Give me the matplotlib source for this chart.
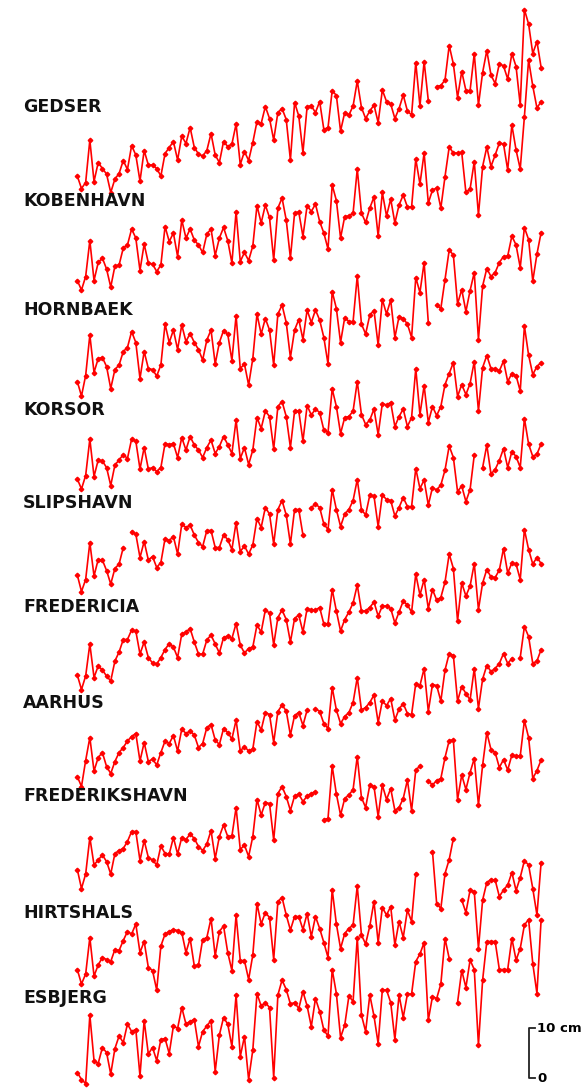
import numpy as np
import matplotlib.pyplot as plt

nan = np.nan
years = np.arange(1889, 2001)

stations = ["GEDSER", "KOBENHAVN", "HORNBAEK", "KORSOR", "SLIPSHAVN",
            "FREDERICIA", "AARHUS", "FREDERIKSHAVN", "HIRTSHALS", "ESBJERG"]

# annual mean sea level, cm (arbitrary zero per station)
gedser = [4.8, 2.3, 3.5, 12.0, 3.7, 7.5, 6.3, 5.2, 1.5, 4.2, 5.3, 7.9, 6.1, 10.9, 9.0, 3.8,
          9.9, 7.0, 7.0, 6.3, 4.8, 9.3, 10.5, 11.7, 8.0, 12.8, 11.3, 14.5, 10.5, 9.2, 8.8, 9.9,
          13.3, 9.0, 7.5, 11.7, 10.7, 11.2, 15.2, 7.1, 9.7, 7.9, 11.5, 15.7, 15.3, 18.7, 16.3, 12.0,
          17.5, 18.3, 16.1, 8.0, 19.5, 16.8, 9.5, 18.7, 18.8, 17.5, 19.7, 14.1, 14.5, 21.9, 20.9, 13.8,
          17.5, 17.0, 18.8, 23.8, 18.5, 16.3, 17.8, 19.0, 15.5, 22.0, 19.7, 19.2, 16.3, 18.3, 21.0, 17.8,
          17.0, 27.5, 18.8, 27.7, 19.9, nan, 22.7, 22.9, 24.0, 30.9, 27.2, 20.5, 25.7, 21.9, 21.9, 29.3,
          19.0, 25.5, 29.9, 25.0, 23.3, 27.3, 26.8, 24.2, 29.3, 26.7, 19.0, 38.1, 35.2, 29.3, 31.7, 26.5]
kobenhavn = [3.2, 1.3, 4.0, 11.2, 3.2, 6.8, 7.7, 5.5, 1.9, 6.1, 6.3, 9.7, 10.3, 13.5, 11.7, 5.2,
             10.5, 6.7, 6.5, 5.0, 6.3, 14.0, 11.0, 12.7, 8.0, 15.3, 11.7, 13.5, 11.3, 10.3, 8.8, 12.5,
             13.5, 8.2, 11.7, 13.8, 11.2, 6.7, 17.0, 7.0, 8.8, 7.2, 10.1, 18.2, 14.7, 18.3, 15.8, 7.3,
             17.7, 19.7, 15.3, 7.7, 16.7, 16.9, 12.0, 18.2, 17.0, 18.5, 15.0, 12.7, 9.5, 22.3, 19.2, 11.7,
             16.0, 16.1, 16.7, 25.5, 16.7, 14.8, 17.7, 19.9, 12.1, 20.8, 16.1, 19.5, 14.7, 18.3, 20.3, 17.9,
             17.9, 27.5, 22.5, 28.7, 18.7, 21.3, 21.7, 17.7, 24.0, 29.9, 28.7, 28.7, 28.8, 20.8, 21.5, 27.0,
             16.3, 26.0, 29.9, 26.0, 28.3, 30.7, 30.5, 25.3, 34.3, 29.3, 25.5, 36.0, 47.3, 42.1, 37.7, 39.0]
hornbaek = [3.7, 0.8, 4.9, 13.0, 5.5, 8.3, 8.5, 6.7, 2.3, 6.1, 7.0, 9.7, 10.5, 13.7, 11.5, 4.3,
            9.7, 6.3, 6.1, 4.8, 7.0, 15.2, 11.5, 14.0, 10.1, 15.0, 11.7, 13.3, 11.5, 10.1, 8.0, 12.0,
            14.0, 7.2, 11.5, 13.9, 13.2, 7.9, 16.9, 6.3, 7.2, 3.0, 8.3, 17.2, 13.2, 16.3, 14.0, 7.0,
            17.2, 19.0, 15.5, 8.5, 14.0, 16.1, 12.1, 18.0, 15.5, 18.0, 16.0, 12.5, 7.2, 21.7, 18.3, 11.5,
            16.5, 15.7, 15.7, 24.8, 15.2, 13.2, 17.0, 17.9, 11.0, 20.1, 17.2, 20.0, 12.5, 16.7, 16.3, 15.2,
            12.5, 24.5, 21.5, 27.5, 15.5, nan, 19.0, 18.3, 24.1, 30.0, 29.0, 19.2, 22.1, 17.7, 21.9, 25.5,
            12.1, 22.8, 26.3, 24.7, 25.5, 27.5, 28.7, 28.8, 32.8, 31.0, 26.5, 34.5, 32.1, 23.8, 29.2, 33.5]
korsor = [3.2, 1.2, 3.9, 11.2, 3.7, 7.0, 6.8, 5.5, 1.9, 6.0, 7.0, 8.1, 7.3, 11.2, 10.8, 5.2,
          9.5, 5.2, 5.5, 4.7, 5.5, 10.3, 10.1, 10.3, 7.5, 11.5, 9.0, 11.7, 10.0, 9.0, 7.5, 9.5,
          11.0, 8.3, 9.7, 11.7, 10.1, 8.3, 15.0, 7.3, 9.5, 6.1, 9.0, 15.5, 13.3, 16.8, 15.7, 9.2,
          17.7, 18.7, 15.7, 9.5, 16.8, 16.8, 10.8, 17.9, 16.0, 17.2, 16.5, 13.0, 12.5, 21.2, 17.7, 12.3,
          15.5, 15.7, 16.8, 22.7, 16.1, 14.1, 15.0, 17.2, 12.1, 18.3, 18.0, 18.5, 13.7, 15.7, 17.2, 13.7,
          15.5, 25.3, 16.1, 21.9, 14.5, 17.7, 15.9, 17.7, 22.1, 24.3, 26.5, 19.7, 22.1, 20.1, 22.3, 26.7,
          16.8, 25.5, 27.9, 25.3, 25.3, 24.8, 26.8, 22.7, 24.3, 23.9, 20.8, 33.8, 28.0, 24.1, 25.7, 26.5]
slipshavn = [4.0, 0.7, 3.1, 10.5, 3.8, 7.1, 7.0, 4.9, 2.2, 5.3, 6.2, 9.5, nan, 12.7, 12.2, 7.5,
             10.7, 7.0, 7.7, 5.5, 6.5, 11.3, 10.9, 11.7, 8.2, 14.2, 13.5, 14.0, 12.0, 10.5, 9.7, 12.9,
             12.9, 9.5, 9.5, 12.0, 11.1, 9.1, 14.5, 8.7, 9.8, 8.2, 10.0, 15.3, 13.5, 17.5, 16.2, 10.2,
             17.1, 18.9, 16.0, 10.2, 17.1, 17.1, 12.0, nan, 17.5, 18.2, 17.5, 14.2, 13.1, 21.1, 17.1, 13.7,
             16.2, 17.1, 18.9, 23.1, 17.1, 16.0, 20.0, 19.8, 13.7, 20.0, 19.1, 18.9, 15.8, 17.5, 19.5, 17.7,
             17.7, 25.3, 21.3, 23.0, 18.0, 21.5, 21.0, 22.0, 25.0, 29.8, 27.5, 20.7, 21.8, 18.7, 21.1, 28.0,
             nan, 25.5, 30.0, 24.2, 25.1, 26.9, 29.3, 25.5, 28.7, 27.7, 25.5, 35.3, 30.2, 27.7, 28.2, 30.2]
fredericia = [3.7, 0.8, 3.5, 9.9, 3.2, 5.5, 4.7, 3.5, 2.5, 6.5, 8.3, 10.8, 10.8, 12.7, 12.5, 7.9,
              10.3, 7.2, 6.1, 5.9, 7.2, 8.8, 10.0, 9.3, 7.2, 11.9, 12.3, 13.0, 10.3, 7.9, 7.9, 10.7,
              11.7, 9.9, 8.1, 11.2, 11.5, 11.0, 14.0, 9.7, 8.1, 9.0, 9.3, 13.7, 12.3, 16.7, 16.1, 9.7,
              15.2, 16.7, 14.8, 10.3, 15.0, 15.7, 12.3, 17.0, 16.7, 16.7, 17.2, 13.9, 14.0, 20.8, 16.5, 12.5,
              14.8, 16.3, 18.1, 21.7, 16.5, 16.5, 17.2, 18.3, 15.5, 17.5, 17.5, 17.0, 14.1, 16.3, 18.5, 17.7,
              16.3, 23.9, 19.7, 22.8, 17.0, 20.8, 18.7, 19.2, 22.3, 27.9, 25.0, 14.5, 22.1, 19.5, 21.5, 26.0,
              16.8, 22.1, 24.8, 23.3, 23.2, 24.7, 29.0, 24.1, 26.1, 25.9, 22.8, 32.8, 28.8, 25.9, 27.2, 26.0]
aarhus = [2.7, 0.7, 5.9, 10.5, 3.8, 6.5, 7.5, 4.7, 3.3, 5.7, 7.5, 8.5, 9.8, 10.7, 11.3, 5.8,
          9.5, 5.7, 6.2, 5.0, 7.5, 9.8, 9.3, 10.9, 7.8, 12.2, 11.3, 11.8, 11.0, 8.5, 9.3, 12.5,
          13.1, 10.0, 9.1, 12.3, 11.5, 10.2, 14.0, 7.8, 8.7, 7.8, 8.2, 13.7, 12.0, 15.5, 15.1, 9.5,
          15.7, 17.0, 15.8, 11.0, 14.9, 15.5, 12.9, 16.0, nan, 16.3, 15.7, 13.3, 12.3, 20.5, 16.0, 13.3,
          14.7, 15.5, 17.5, 22.5, 16.0, 16.5, 17.5, 19.0, 13.5, 17.8, 16.9, 18.3, 14.0, 16.2, 17.3, 15.3,
          15.1, 21.3, 20.9, 24.3, 15.7, 21.1, 20.9, 17.8, 24.0, 27.3, 26.9, 17.8, 20.7, 19.3, 18.0, 24.3,
          16.3, 22.2, 24.9, 23.7, 24.3, 25.3, 27.3, 25.3, 26.3, nan, 26.5, 32.7, 30.7, 25.3, 25.8, 28.1]
frederikshavn = [4.1, 0.3, 3.2, 10.5, 5.0, 6.0, 7.0, 5.7, 3.2, 7.3, 7.9, 8.3, 9.7, 11.7, 11.7, 5.9,
                 9.9, 6.5, 6.0, 5.0, 8.8, 7.3, 7.2, 10.5, 7.2, 10.5, 10.1, 11.2, 10.3, 8.7, 7.9, 9.2,
                 11.9, 6.3, 10.7, 13.0, 10.7, 10.8, 16.5, 8.1, 9.0, 6.7, 10.7, 18.1, 15.0, 17.5, 17.3, 10.0,
                 19.3, 20.7, 18.7, 15.9, 18.8, 19.2, 17.7, 18.8, 19.3, 19.7, nan, 14.1, 14.3, 24.8, 19.2, 15.0,
                 18.3, 19.0, 20.1, 26.7, 18.5, 16.5, 21.0, 20.7, 14.7, 21.0, 18.1, 20.3, 15.9, 16.5, 18.3, 22.0,
                 15.9, 24.0, 24.8, nan, 21.9, 21.0, 21.9, 22.3, 26.5, 29.9, 30.0, 18.1, 23.0, 20.1, 23.5, 26.3,
                 17.0, 25.0, 31.5, 28.1, 27.5, 24.5, 26.1, 24.0, 27.0, 26.8, 26.8, 33.9, 30.5, 22.3, 23.9, 26.0]
hirtshals = [5.1, 2.2, 4.2, 11.5, 3.8, 6.0, 7.5, 7.1, 6.7, 9.1, 8.9, 10.9, 12.7, 12.2, 14.2, 8.5,
             10.7, 5.5, 4.9, 1.0, 9.8, 12.2, 12.7, 13.1, 12.9, 12.5, 8.5, 11.3, 5.8, 6.0, 11.1, 11.5,
             15.3, 7.8, 12.7, 13.8, 8.5, 4.9, 16.0, 6.9, 6.9, 3.1, 8.0, 18.3, 14.2, 16.5, 15.5, 7.1,
             18.7, 19.5, 16.0, 13.0, 15.7, 15.7, 13.1, 16.3, 11.7, 15.7, 13.3, 10.5, 7.5, 21.1, 14.2, 9.3,
             12.3, 13.3, 14.0, 21.8, 12.0, 10.2, 13.8, 18.7, 10.5, 17.5, 16.0, 17.7, 10.0, 14.7, 11.5, 17.0,
             14.7, 24.3, nan, nan, nan, 28.7, 18.3, 17.3, 24.3, 27.1, 31.3, nan, 19.0, 16.5, 21.0, 20.7,
             9.3, 19.0, 22.5, 23.1, 23.0, 19.7, 21.0, 22.0, 24.5, 20.9, 23.5, 26.9, 26.0, 21.3, 16.0, 26.5]
esbjerg = [2.5, 1.1, 0.3, 14.0, 4.9, 4.3, 7.5, 6.5, 2.2, 7.3, 9.8, 8.5, 12.2, 10.7, 11.1, 1.8,
           12.9, 6.2, 7.5, 4.9, 9.1, 9.3, 6.3, 11.8, 11.3, 15.5, 12.2, 12.7, 13.1, 7.7, 10.7, 11.8,
           12.9, 2.7, 10.0, 13.5, 12.2, 7.7, 18.0, 5.7, 9.7, 1.1, 7.0, 18.3, 15.8, 16.5, 15.5, 1.5,
           18.0, 21.0, 19.1, 16.2, 16.5, 15.3, 18.7, 15.8, 11.7, 17.3, 14.7, 11.0, 9.8, 23.1, 18.3, 9.5,
           12.0, 17.8, 16.7, 29.5, 14.0, 10.7, 18.0, 13.8, 8.3, 19.0, 19.0, 16.5, 9.1, 18.0, 13.5, 18.2,
           18.2, 24.7, 26.2, 28.5, 13.0, 17.7, 17.3, 20.2, 29.3, 25.3, nan, 16.5, 22.9, 19.5, 25.0, 23.1,
           8.0, 21.0, 28.7, 28.7, 28.7, 23.1, 23.1, 23.1, 29.3, 25.0, 27.3, 32.0, 33.1, 24.3, 18.3, 33.1]

series = [gedser, kobenhavn, hornbaek, korsor, slipshavn,
          fredericia, aarhus, frederikshavn, hirtshals, esbjerg]

# vertical placement of each curve and its name (cm on the page)
offsets = [177.6, 158.3, 137.6, 118.6, 98.6, 78.9, 59.6, 39.6, 18.6, 0.6]
label_y = [196.3, 177.4, 155.6, 135.6, 117.0, 96.2, 77.0, 58.4, 35.0, 18.0]

fig = plt.figure(figsize=(5.85, 10.88), dpi=100)
ax = fig.add_axes([0, 0, 1, 1])
ax.set_xlim(1870.5, 2010.5)
ax.set_ylim(0, 217.6)
ax.axis('off')

for name, vals, off, ly in zip(stations, series, offsets, label_y):
    ax.plot(years, np.array(vals) + off, color='#ff0000', lw=1.2,
            marker='D', ms=2.3, mec='#ff0000', mfc='#ff0000')
    ax.text(1876, ly, name, fontsize=12.5, fontweight='bold',
            va='center', ha='left', color='#111111')

# scale bar: 10 cm
bar_x, bar_y0, bar_len = 1997.1, 2.0, 10
ax.plot([bar_x + 1.4, bar_x, bar_x, bar_x + 1.4],
        [bar_y0, bar_y0, bar_y0 + bar_len, bar_y0 + bar_len],
        color='#222222', lw=1.3)
ax.text(bar_x + 1.9, bar_y0 + bar_len, '10 cm', fontsize=9.5, fontweight='bold',
        va='center', ha='left')
ax.text(bar_x + 1.9, bar_y0, '0', fontsize=9.5, fontweight='bold',
        va='center', ha='left')

fig.savefig('out.png', dpi=100)
